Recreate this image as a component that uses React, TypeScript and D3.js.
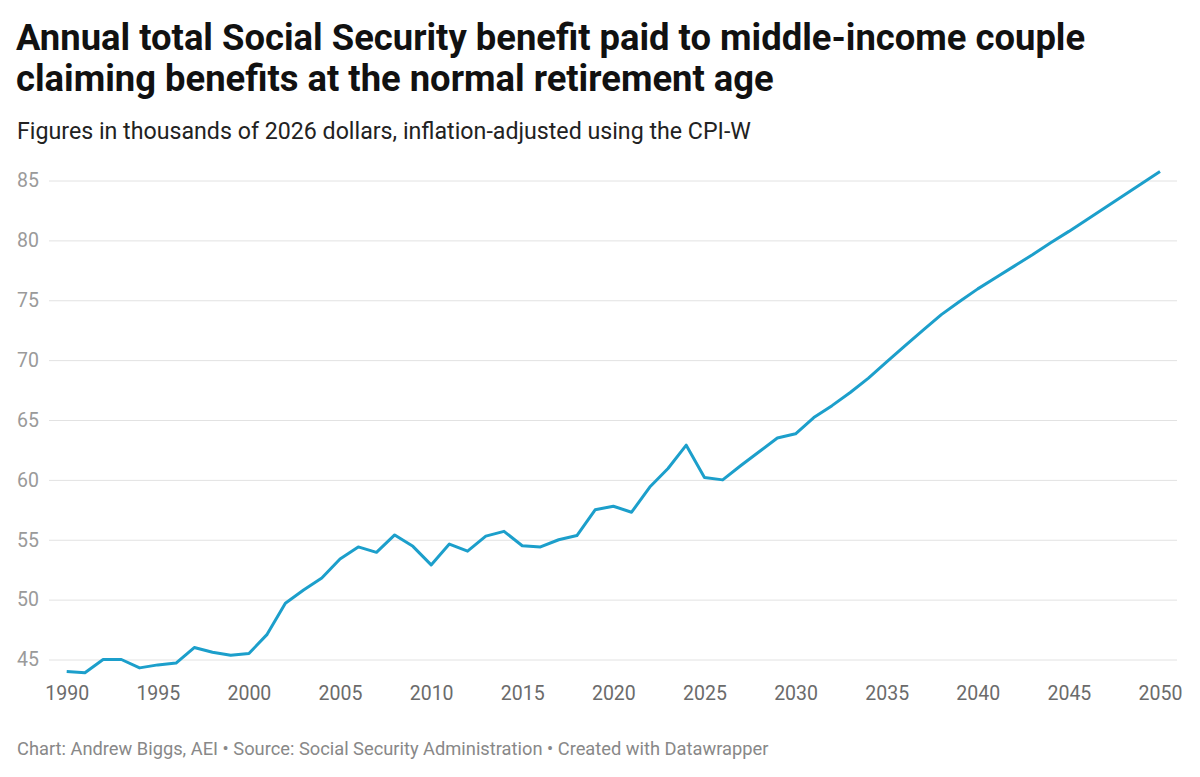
import { useRef, useEffect } from "react";
import * as d3 from "d3";

const years = [
  1990, 1991, 1992, 1993, 1994, 1995, 1996, 1997, 1998, 1999,
  2000, 2001, 2002, 2003, 2004, 2005, 2006, 2007, 2008, 2009,
  2010, 2011, 2012, 2013, 2014, 2015, 2016, 2017, 2018, 2019,
  2020, 2021, 2022, 2023, 2024, 2025, 2026, 2027, 2028, 2029,
  2030, 2031, 2032, 2033, 2034, 2035, 2036, 2037, 2038, 2039,
  2040, 2041, 2042, 2043, 2044, 2045, 2046, 2047, 2048, 2049,
  2050,
];

// thousands of 2026 dollars
const benefit = [
  44.0, 43.9, 45.0, 45.0, 44.3, 44.55, 44.7, 46.0, 45.6, 45.35,
  45.5, 47.1, 49.7, 50.8, 51.8, 53.4, 54.4, 53.95, 55.4, 54.45,
  52.9, 54.64, 54.05, 55.3, 55.7, 54.5, 54.4, 55.0, 55.35, 57.5,
  57.8, 57.3, 59.4, 60.95, 62.9, 60.2, 60.0, 61.2, 62.35, 63.5,
  63.85, 65.2, 66.2, 67.3, 68.5, 69.85, 71.2, 72.5, 73.8, 74.9,
  75.95, 76.9, 77.85, 78.8, 79.8, 80.75, 81.75, 82.75, 83.75, 84.75,
  85.75,
];

const yTicks = [45, 50, 55, 60, 65, 70, 75, 80, 85];
const xTicks = [1990, 1995, 2000, 2005, 2010, 2015, 2020, 2025, 2030, 2035, 2040, 2045, 2050];

const titleLines = [
  "Annual total Social Security benefit paid to middle-income couple",
  "claiming benefits at the normal retirement age",
];
const subtitle = "Figures in thousands of 2026 dollars, inflation-adjusted using the CPI-W";
const footer =
  "Chart: Andrew Biggs, AEI \u2022 Source: Social Security Administration \u2022 Created with Datawrapper";

const FONT = "Roboto, 'Noto Sans', sans-serif";

export default function App() {
  const svgRef = useRef<SVGSVGElement>(null);

  useEffect(() => {
    const svg = svgRef.current;
    if (!svg) return;

    const width = 1200;
    const height = 777;
    const plot = { left: 49, right: 1177, top: 180.5, bottom: 659.5 };

    const x = d3.scaleLinear().domain([1990, 2050]).range([66.7, 1160]);
    const y = d3.scaleLinear().domain([45, 85]).range([plot.bottom, plot.top]);

    const sel = d3.select(svg);
    sel.selectAll("*").remove();
    sel.attr("width", width).attr("height", height).attr("font-family", FONT);

    sel.append("rect").attr("width", width).attr("height", height).attr("fill", "#fff");

    // Header
    sel
      .selectAll("text.title")
      .data(titleLines)
      .join("text")
      .attr("class", "title")
      .attr("x", 16)
      .attr("y", (_, i) => 50 + i * 41)
      .attr("font-size", 36.4)
      .attr("font-weight", 700)
      .attr("fill", "#111")
      .text((d) => d);

    sel
      .append("text")
      .attr("x", 17)
      .attr("y", 139)
      .attr("font-size", 23.2)
      .attr("fill", "#222")
      .text(subtitle);

    // Y gridlines + labels
    sel
      .append("g")
      .attr("transform", `translate(${plot.right},0)`)
      .call(
        d3
          .axisLeft(y)
          .tickValues(yTicks)
          .tickSize(plot.right - plot.left)
          .tickPadding(10)
      )
      .call((g) => g.select(".domain").remove())
      .call((g) => g.selectAll("line").attr("stroke", "#e2e2e2").attr("stroke-width", 1))
      .call((g) =>
        g
          .selectAll("text")
          .attr("fill", "#9a9a9a")
          .attr("font-size", 19.5)
          .attr("font-family", FONT)
      );

    // X labels
    sel
      .append("g")
      .attr("transform", `translate(0,${plot.bottom})`)
      .call(d3.axisBottom(x).tickValues(xTicks).tickFormat(d3.format("d")).tickSize(0).tickPadding(27))
      .call((g) => g.select(".domain").remove())
      .call((g) =>
        g
          .selectAll("text")
          .attr("fill", "#6b6b6b")
          .attr("font-size", 19.5)
          .attr("font-family", FONT)
      );

    // Line
    const line = d3
      .line<number>()
      .x((_, i) => x(years[i]))
      .y((d) => y(d));

    sel
      .append("path")
      .datum(benefit)
      .attr("fill", "none")
      .attr("stroke", "#1c9fcb")
      .attr("stroke-width", 3)
      .attr("stroke-linejoin", "round")
      .attr("d", line);

    // Footer
    sel
      .append("text")
      .attr("x", 17)
      .attr("y", 755)
      .attr("font-size", 18.3)
      .attr("fill", "#888")
      .text(footer);
  }, []);

  return (
    <div style={{ position: "absolute", left: 0, top: 0 }}>
      <svg ref={svgRef} style={{ display: "block" }} />
    </div>
  );
}
